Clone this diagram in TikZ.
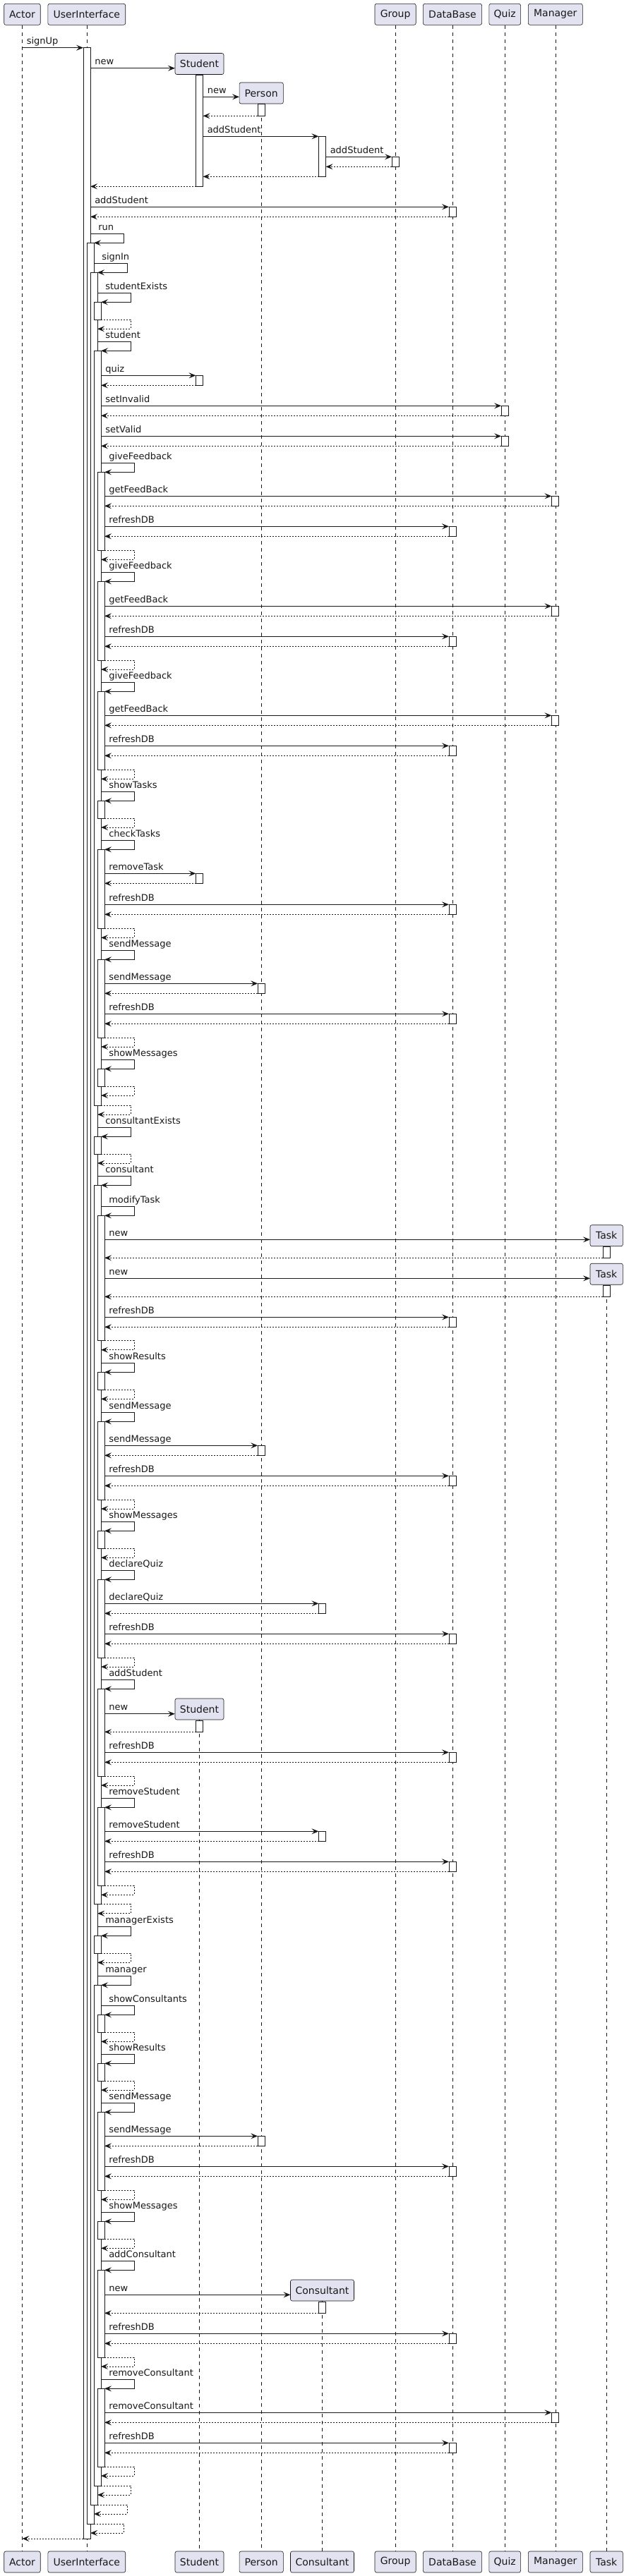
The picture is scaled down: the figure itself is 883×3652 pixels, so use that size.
\documentclass[tikz,border=0pt]{standalone}
\usepackage{fontspec}
\setmainfont{DejaVu Sans}
\usetikzlibrary{arrows.meta}
\definecolor{pfill}{HTML}{E2E2F0}
\definecolor{ink}{HTML}{181818}
\newcounter{ev}
\newcommand\laneA{31.5}
\newcommand\laneUI{122.8}
\newcommand\laneSt{282.5}
\newcommand\lanePe{370.2}
\newcommand\laneCo{456.5}
\newcommand\laneGr{560.1}
\newcommand\laneDB{641}
\newcommand\laneQu{715.2}
\newcommand\laneMa{786.5}
\newcommand\laneTa{859.2}
% bar: center x, y1, y2
\newcommand\SBar[3]{\stepcounter{ev}%
  \coordinate (b\theev a) at (#1-5,#2);
  \coordinate (b\theev b) at (#1+5,#3);
  \draw[actbar] (b\theev a) rectangle (b\theev b);}
% message: x1, x2, y, label
\newcommand\SMsg[4]{\stepcounter{ev}%
  \coordinate (m\theev a) at (#1,#3);
  \coordinate (m\theev b) at (#2,#3);
  \draw[msgline] (m\theev a) -- (m\theev b);
  \node[msglabel] (m\theev t) at (#1+6,#3-5) {#4};}
% return: x1, x2, y
\newcommand\SRet[3]{\stepcounter{ev}%
  \coordinate (r\theev a) at (#1,#3);
  \coordinate (r\theev b) at (#2,#3);
  \draw[retline] (r\theev a) -- (r\theev b);}
% call with bar and return: from x, lane, y, label
\newcommand\SCall[4]{\SBar{#2}{#3}{#3+14}\SMsg{#1}{#2-5}{#3}{#4}\SRet{#2-5}{#1}{#3+14}}
% self call: right edge R, y, label
\newcommand\SSelf[3]{\stepcounter{ev}%
  \coordinate (s\theev a) at (#1,#2);
  \coordinate (s\theev b) at (#1+5,#2+13);
  \draw[msgline] (s\theev a) -- ++(47,0) |- (s\theev b);
  \node[msglabel] (s\theev t) at (#1+11,#2-5) {#3};}
% self return: inner right edge, outer right edge, y
\newcommand\SSelfRet[3]{\stepcounter{ev}%
  \coordinate (q\theev a) at (#1,#3);
  \coordinate (q\theev b) at (#2,#3+13);
  \draw[retline] (q\theev a) -- (#2+47,#3) |- (q\theev b);}
\begin{document}
\begin{tikzpicture}[x=0.75pt,y=-0.75pt,
  pbox/.style={draw=ink, fill=pfill, line width=0.45pt, rounded corners=1.9pt,
    minimum height=22.5pt, inner sep=0pt, text=ink,
    font=\fontsize{10.5pt}{12.6pt}\selectfont},
  life/.style={draw=ink, line width=0.4pt, dash pattern=on 3.75pt off 3.75pt},
  actbar/.style={draw=ink, fill=white, line width=0.75pt},
  msgline/.style={draw=ink, line width=0.75pt, -{Stealth[length=7.5pt,width=6pt,inset=3pt]}},
  retline/.style={msgline, dash pattern=on 1.5pt off 1.5pt},
  msglabel/.style={anchor=base west, inner sep=0pt, text=ink,
    font=\fontsize{9.75pt}{11.7pt}\selectfont}]
\useasboundingbox (0,0) rectangle (883,3652);
\fill[white] (0,0) rectangle (883,3652);

% participant boxes, top
\node[pbox, minimum width=51.5*0.75pt] (tA) at (\laneA,20.3) {Actor};
\node[pbox, minimum width=109.8*0.75pt] (tUI) at (\laneUI,20.3) {UserInterface};
\node[pbox, minimum width=58.2*0.75pt] (tGr) at (\laneGr,20.3) {Group};
\node[pbox, minimum width=83.2*0.75pt] (tDB) at (\laneDB,20.3) {DataBase};
\node[pbox, minimum width=44.7*0.75pt] (tQu) at (\laneQu,20.3) {Quiz};
\node[pbox, minimum width=77*0.75pt] (tMa) at (786.8,20.3) {Manager};
% created participants
\node[pbox, minimum width=69*0.75pt] (cSt1) at (\laneSt,90.5) {Student};
\node[pbox, minimum width=62.3*0.75pt] (cPe) at (\lanePe,132) {Person};
\node[pbox, minimum width=46.4*0.75pt] (cTa1) at (\laneTa,1751.7) {Task};
\node[pbox, minimum width=46.4*0.75pt] (cTa2) at (\laneTa,1806.2) {Task};
\node[pbox, minimum width=69*0.75pt] (cSt2) at (\laneSt,2423) {Student};
\node[pbox, minimum width=90*0.75pt] (cCo) at (\laneCo,3247) {Consultant};
% participant boxes, bottom
\node[pbox, minimum width=51.5*0.75pt] (bA) at (\laneA,3632) {Actor};
\node[pbox, minimum width=109.8*0.75pt] (bUI) at (\laneUI,3632) {UserInterface};
\node[pbox, minimum width=69*0.75pt] (bSt) at (\laneSt,3632) {Student};
\node[pbox, minimum width=62.3*0.75pt] (bPe) at (\lanePe,3632) {Person};
\node[pbox, minimum width=90*0.75pt] (bCo) at (\laneCo,3632) {Consultant};
\node[pbox, minimum width=58.2*0.75pt] (bGr) at (\laneGr,3632) {Group};
\node[pbox, minimum width=83.2*0.75pt] (bDB) at (\laneDB,3632) {DataBase};
\node[pbox, minimum width=44.7*0.75pt] (bQu) at (\laneQu,3632) {Quiz};
\node[pbox, minimum width=77*0.75pt] (bMa) at (786.8,3632) {Manager};
\node[pbox, minimum width=46.4*0.75pt] (bTa) at (\laneTa,3632) {Task};

% lifelines
\draw[life] (tA.south) -- (bA.north);
\draw[life] (tUI.south) -- (bUI.north);
\draw[life] (tGr.south) -- (bGr.north);
\draw[life] (tDB.south) -- (bDB.north);
\draw[life] (tQu.south) -- (bQu.north);
\draw[life] (tMa.south) -- (bMa.north);
\draw[life] (cPe.south) -- (bPe.north);
\draw[life] (cSt2.south) -- (bSt.north);
\draw[life] (cTa2.south) -- (bTa.north);
\draw[life] (cCo.south) -- (bCo.north);

% UserInterface activations
\SBar{123}{67.7}{3599}
\SBar{128}{344.3}{3578}
\SBar{133}{386.3}{3551}
\SBar{138}{428.3}{453.3}
\SBar{138}{497.3}{1567}
\SBar{138}{1611.3}{1636}
\SBar{138}{1680.3}{2699.7}
\SBar{138}{2744.3}{2769.3}
\SBar{138}{2814.3}{3524}
\SBar{143}{669.3}{780.3}
\SBar{143}{824.3}{936}
\SBar{143}{980.3}{1091.3}
\SBar{143}{1135.3}{1160}
\SBar{143}{1204.3}{1316.3}
\SBar{143}{1360.3}{1471}
\SBar{143}{1515.3}{1540}
\SBar{143}{1723.3}{1900.7}
\SBar{143}{1945.3}{1970.3}
\SBar{143}{2015.3}{2126}
\SBar{143}{2170.3}{2195.3}
\SBar{143}{2239.3}{2350}
\SBar{143}{2394.3}{2518}
\SBar{143}{2562.3}{2673.3}
\SBar{143}{2856.3}{2881.3}
\SBar{143}{2925.3}{2950}
\SBar{143}{2994.3}{3105.3}
\SBar{143}{3149.3}{3174.3}
\SBar{143}{3218.3}{3342}
\SBar{143}{3386.3}{3497}
% other activations at the start
\SBar{\laneSt}{106.3}{264.3}
\SBar{\lanePe}{147.3}{164.3}
\SBar{\laneCo}{193.3}{250.3}

% messages
\SMsg{\laneA}{118}{67.7}{signUp}
\SMsg{128}{247.9}{96.7}{new}
\SMsg{287.5}{339}{137.3}{new}
\SRet{365.2}{287.5}{164.3}
\SMsg{287.5}{451.5}{193.3}{addStudent}
\SCall{461.5}{\laneGr}{222.3}{addStudent}
\SRet{451.5}{287.5}{250.3}
\SRet{277.5}{128}{264.3}
\SCall{128}{\laneDB}{293.3}{addStudent}
\SSelf{128}{331.3}{run}
\SSelf{133}{373.3}{signIn}
\SSelf{138}{415.3}{studentExists}
\SSelfRet{143}{138}{453.3}
\SSelf{138}{484.3}{student}
\SCall{143}{\laneSt}{532.3}{quiz}
\SCall{143}{\laneQu}{575.3}{setInvalid}
\SCall{143}{\laneQu}{618.3}{setValid}
\SSelf{143}{656.3}{giveFeedback}
\SCall{148}{\laneMa}{703.3}{getFeedBack}
\SCall{148}{\laneDB}{746.3}{refreshDB}
\SSelfRet{148}{143}{780.3}
\SSelf{143}{811.3}{giveFeedback}
\SCall{148}{\laneMa}{859.3}{getFeedBack}
\SCall{148}{\laneDB}{902.3}{refreshDB}
\SSelfRet{148}{143}{936}
\SSelf{143}{967.3}{giveFeedback}
\SCall{148}{\laneMa}{1014.3}{getFeedBack}
\SCall{148}{\laneDB}{1057.3}{refreshDB}
\SSelfRet{148}{143}{1091.3}
\SSelf{143}{1122.3}{showTasks}
\SSelfRet{148}{143}{1160}
\SSelf{143}{1191.3}{checkTasks}
\SCall{148}{\laneSt}{1238.3}{removeTask}
\SCall{148}{\laneDB}{1282.3}{refreshDB}
\SSelfRet{148}{143}{1316.3}
\SSelf{143}{1347.3}{sendMessage}
\SCall{148}{\lanePe}{1394.3}{sendMessage}
\SCall{148}{\laneDB}{1437.3}{refreshDB}
\SSelfRet{148}{143}{1471}
\SSelf{143}{1502.3}{showMessages}
\SSelfRet{148}{143}{1540}
\SSelfRet{143}{138}{1567}
\SSelf{138}{1598.3}{consultantExists}
\SSelfRet{143}{138}{1636}
\SSelf{138}{1667.3}{consultant}
\SSelf{143}{1710.3}{modifyTask}
\SMsg{148}{836}{1757.3}{new}
\SBar{\laneTa}{1767.3}{1783.3}
\SRet{\laneTa-5}{148}{1783.3}
\SMsg{148}{836}{1812.3}{new}
\SBar{\laneTa}{1822.3}{1838.3}
\SRet{\laneTa-5}{148}{1838.3}
\SCall{148}{\laneDB}{1867.3}{refreshDB}
\SSelfRet{148}{143}{1900.7}
\SSelf{143}{1932.3}{showResults}
\SSelfRet{148}{143}{1970.3}
\SSelf{143}{2002.3}{sendMessage}
\SCall{148}{\lanePe}{2049.3}{sendMessage}
\SCall{148}{\laneDB}{2092.3}{refreshDB}
\SSelfRet{148}{143}{2126}
\SSelf{143}{2157.3}{showMessages}
\SSelfRet{148}{143}{2195.3}
\SSelf{143}{2226.3}{declareQuiz}
\SCall{148}{\laneCo}{2273.3}{declareQuiz}
\SCall{148}{\laneDB}{2316.3}{refreshDB}
\SSelfRet{148}{143}{2350}
\SSelf{143}{2381.3}{addStudent}
\SMsg{148}{247.9}{2429.7}{new}
\SBar{\laneSt}{2439.3}{2455.3}
\SRet{\laneSt-5}{148}{2455.3}
\SCall{148}{\laneDB}{2484.3}{refreshDB}
\SSelfRet{148}{143}{2518}
\SSelf{143}{2549.3}{removeStudent}
\SCall{148}{\laneCo}{2596.3}{removeStudent}
\SCall{148}{\laneDB}{2639.3}{refreshDB}
\SSelfRet{148}{143}{2673.3}
\SSelfRet{143}{138}{2699.7}
\SSelf{138}{2731.3}{managerExists}
\SSelfRet{143}{138}{2769.3}
\SSelf{138}{2801.3}{manager}
\SSelf{143}{2843.3}{showConsultants}
\SSelfRet{148}{143}{2881.3}
\SSelf{143}{2912.3}{showResults}
\SSelfRet{148}{143}{2950}
\SSelf{143}{2981.3}{sendMessage}
\SCall{148}{\lanePe}{3028.3}{sendMessage}
\SCall{148}{\laneDB}{3071.3}{refreshDB}
\SSelfRet{148}{143}{3105.3}
\SSelf{143}{3136.3}{showMessages}
\SSelfRet{148}{143}{3174.3}
\SSelf{143}{3205.3}{addConsultant}
\SMsg{148}{411.5}{3253.3}{new}
\SBar{\laneCo}{3263.3}{3279.3}
\SRet{\laneCo-5}{148}{3279.3}
\SCall{148}{\laneDB}{3308.3}{refreshDB}
\SSelfRet{148}{143}{3342}
\SSelf{143}{3373.3}{removeConsultant}
\SCall{148}{\laneMa}{3420.3}{removeConsultant}
\SCall{148}{\laneDB}{3463.3}{refreshDB}
\SSelfRet{148}{143}{3497}
\SSelfRet{143}{138}{3524}
\SSelfRet{138}{133}{3551}
\SSelfRet{133}{128}{3578}
\SRet{118}{\laneA}{3599}
\end{tikzpicture}
\end{document}
